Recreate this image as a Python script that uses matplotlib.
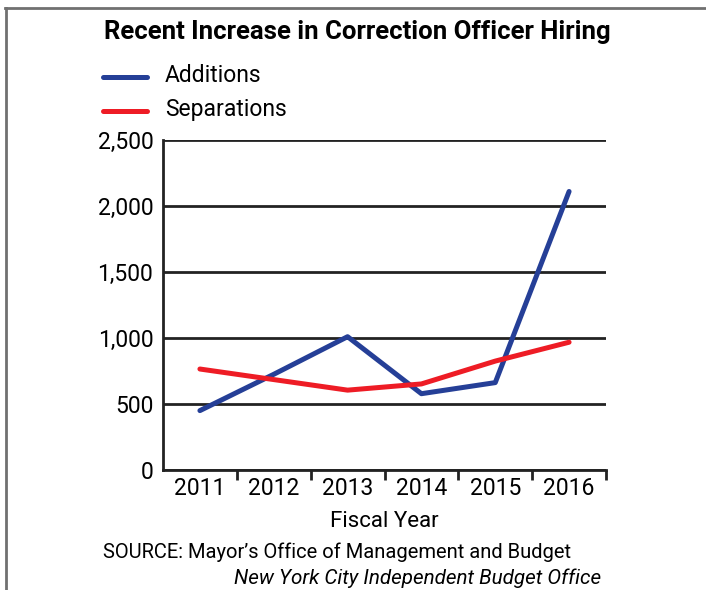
import matplotlib.pyplot as plt
from matplotlib.lines import Line2D
from matplotlib.ticker import FuncFormatter, FixedLocator

years = ["2011", "2012", "2013", "2014", "2015", "2016"]
additions = [450, 725, 1010, 578, 662, 2110]
separations = [765, 685, 605, 652, 825, 968]

blue = "#253f97"
red = "#ee1c25"

plt.rcParams["font.family"] = ["Roboto", "DejaVu Sans"]

fig = plt.figure(figsize=(7.06, 5.9), dpi=100)
ax = fig.add_axes([163 / 706, 1 - 470 / 590, 443 / 706, 330 / 590])

x = list(range(len(years)))
ax.plot(x, additions, color=blue, lw=3.6, solid_capstyle="round", zorder=3)
ax.plot(x, separations, color=red, lw=3.6, solid_capstyle="round", zorder=3)

ax.set_xlim(-0.5, 5.5)
ax.set_ylim(0, 2500)
ax.set_yticks([0, 500, 1000, 1500, 2000, 2500])
ax.yaxis.set_major_formatter(FuncFormatter(lambda v, p: f"{int(v):,}"))
ax.grid(axis="y", color="#222222", lw=2)
ax.set_axisbelow(True)

ax.set_xticks(x)
ax.set_xticklabels(years)
ax.xaxis.set_minor_locator(FixedLocator([0.5, 1.5, 2.5, 3.5, 4.5, 5.5]))
ax.tick_params(axis="x", which="major", length=0, pad=5, labelsize=16.5)
ax.tick_params(axis="x", which="minor", length=7, width=2, direction="out", color="#222222")
ax.tick_params(axis="y", length=0, pad=7, labelsize=16.5)

for s in ["top", "right"]:
    ax.spines[s].set_visible(False)
for s in ["left", "bottom"]:
    ax.spines[s].set_linewidth(2)
    ax.spines[s].set_color("#222222")

ax.set_xlabel("Fiscal Year", fontsize=16, labelpad=8)

fig.text(357 / 706, 1 - 32 / 590, "Recent Increase in Correction Officer Hiring",
         ha="center", va="center", fontsize=18.5, fontweight="bold")

# legend drawn by hand at the top left
fig.add_artist(Line2D([103 / 706, 147 / 706], [1 - 77 / 590] * 2, color=blue, lw=3.6,
                      solid_capstyle="round"))
fig.add_artist(Line2D([103 / 706, 147 / 706], [1 - 111 / 590] * 2, color=red, lw=3.6,
                      solid_capstyle="round"))
fig.text(165 / 706, 1 - 76 / 590, "Additions", ha="left", va="center", fontsize=16.5)
fig.text(165 / 706, 1 - 110 / 590, "Separations", ha="left", va="center", fontsize=16.5)

fig.text(103 / 706, 1 - 552 / 590, "SOURCE: Mayor\u2019s Office of Management and Budget",
         ha="left", va="center", fontsize=14.5)
fig.text(601 / 706, 1 - 578 / 590, "New York City Independent Budget Office",
         ha="right", va="center", fontsize=14.9, style="italic")

# gray frame on top and left
fig.add_artist(Line2D([5 / 706, 1], [1 - 8 / 590] * 2, color="#707070", lw=2))
fig.add_artist(Line2D([6 / 706] * 2, [0, 1 - 8 / 590], color="#707070", lw=2))

fig.savefig("out.png", dpi=100)
